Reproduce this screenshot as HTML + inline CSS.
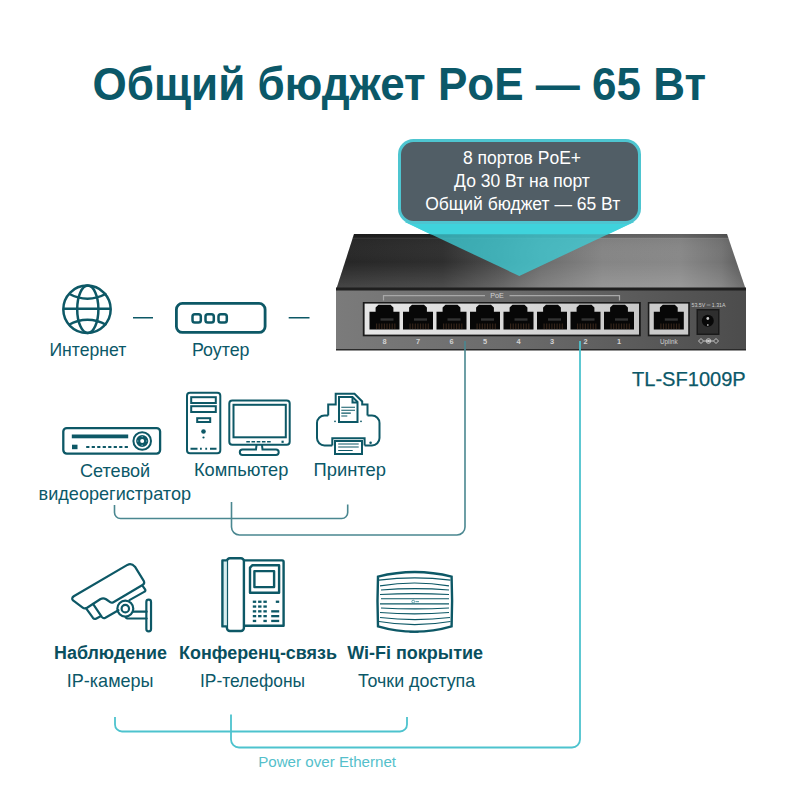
<!DOCTYPE html><html><head><meta charset="utf-8"><style>
html,body{margin:0;padding:0;background:#fff;width:800px;height:800px;overflow:hidden}
svg{display:block}
text{font-family:"Liberation Sans",sans-serif} .lb{stroke:none}
</style></head><body>
<svg width="800" height="800" viewBox="0 0 800 800">
<defs>
<linearGradient id="gtop" x1="0" y1="0" x2="1" y2="0">
<stop offset="0" stop-color="#262626"/><stop offset="0.26" stop-color="#2e2e2e"/><stop offset="0.4" stop-color="#4e4e4e"/><stop offset="0.5" stop-color="#6c6c6c"/><stop offset="0.65" stop-color="#858585"/><stop offset="0.84" stop-color="#888888"/><stop offset="0.94" stop-color="#747474"/><stop offset="1" stop-color="#555555"/>
</linearGradient>
<linearGradient id="gtopv" x1="0" y1="0" x2="0" y2="1">
<stop offset="0" stop-color="#000" stop-opacity="0.08"/><stop offset="0.5" stop-color="#fff" stop-opacity="0"/><stop offset="1" stop-color="#fff" stop-opacity="0.16"/>
</linearGradient>
<linearGradient id="gfront" x1="0" y1="0" x2="1" y2="0">
<stop offset="0" stop-color="#7b7b7b"/><stop offset="0.45" stop-color="#6a6a6a"/><stop offset="1" stop-color="#4c4c4c"/>
</linearGradient>
<linearGradient id="gblock" x1="0" y1="0" x2="1" y2="0">
<stop offset="0" stop-color="#e6e6e6"/><stop offset="0.5" stop-color="#dadada"/><stop offset="1" stop-color="#c8c8c8"/>
</linearGradient>
</defs>

<text x="92.5" y="100" font-size="47" font-weight="bold" fill="#0b5868" textLength="613.5" lengthAdjust="spacingAndGlyphs">Общий бюджет PoE — 65 Вт</text>
<polygon points="354,234 727,234 746,290 336,290" fill="url(#gtop)"/>
<polygon points="354,234 727,234 746,290 336,290" fill="url(#gtopv)"/>
<polygon points="354,234 727,234 728.4,238 352.6,238" fill="#000" opacity="0.22"/>
<rect x="352.6" y="237.6" width="375.8" height="1" fill="#fff" opacity="0.1"/>
<rect x="336" y="288" width="410" height="62" fill="url(#gfront)"/>
<rect x="336" y="287.5" width="410" height="3" fill="#1f1f1f"/>
<rect x="336" y="349" width="410" height="1.5" fill="#2a2a2a"/>
<path d="M383.5 300.5 v-4.8 h101.5 M509.5 295.7 h110 v4.8" fill="none" stroke="#a8a8a8" stroke-width="1.2"/>
<text x="497" y="298.3" font-size="7.2" fill="#d0d0d0" text-anchor="middle">PoE</text>
<rect x="362.8" y="302" width="278" height="34.3" fill="#1a1a1a"/>
<rect x="364.6" y="303.6" width="274.4" height="31" fill="url(#gblock)"/>
<path d="M378.50 304.8 H390.50 L393.40 307.6 V311.75 H399.50 V329.5 H369.50 V311.75 H375.60 V307.6 Z" fill="#070707"/><rect x="380.50" y="318.3" width="13" height="2.4" fill="#333"/><rect x="376.00" y="323.5" width="1.2" height="5.5" fill="#33241a"/><rect x="378.60" y="323.5" width="1.2" height="5.5" fill="#33241a"/><rect x="381.20" y="323.5" width="1.2" height="5.5" fill="#33241a"/><rect x="383.80" y="323.5" width="1.2" height="5.5" fill="#33241a"/><rect x="386.40" y="323.5" width="1.2" height="5.5" fill="#33241a"/><rect x="389.00" y="323.5" width="1.2" height="5.5" fill="#33241a"/><rect x="391.60" y="323.5" width="1.2" height="5.5" fill="#33241a"/><rect x="394.20" y="323.5" width="1.2" height="5.5" fill="#33241a"/>
<path d="M412.00 304.8 H424.00 L426.90 307.6 V311.75 H433.00 V329.5 H403.00 V311.75 H409.10 V307.6 Z" fill="#070707"/><rect x="414.00" y="318.3" width="13" height="2.4" fill="#333"/><rect x="409.50" y="323.5" width="1.2" height="5.5" fill="#33241a"/><rect x="412.10" y="323.5" width="1.2" height="5.5" fill="#33241a"/><rect x="414.70" y="323.5" width="1.2" height="5.5" fill="#33241a"/><rect x="417.30" y="323.5" width="1.2" height="5.5" fill="#33241a"/><rect x="419.90" y="323.5" width="1.2" height="5.5" fill="#33241a"/><rect x="422.50" y="323.5" width="1.2" height="5.5" fill="#33241a"/><rect x="425.10" y="323.5" width="1.2" height="5.5" fill="#33241a"/><rect x="427.70" y="323.5" width="1.2" height="5.5" fill="#33241a"/>
<path d="M445.50 304.8 H457.50 L460.40 307.6 V311.75 H466.50 V329.5 H436.50 V311.75 H442.60 V307.6 Z" fill="#070707"/><rect x="447.50" y="318.3" width="13" height="2.4" fill="#333"/><rect x="443.00" y="323.5" width="1.2" height="5.5" fill="#33241a"/><rect x="445.60" y="323.5" width="1.2" height="5.5" fill="#33241a"/><rect x="448.20" y="323.5" width="1.2" height="5.5" fill="#33241a"/><rect x="450.80" y="323.5" width="1.2" height="5.5" fill="#33241a"/><rect x="453.40" y="323.5" width="1.2" height="5.5" fill="#33241a"/><rect x="456.00" y="323.5" width="1.2" height="5.5" fill="#33241a"/><rect x="458.60" y="323.5" width="1.2" height="5.5" fill="#33241a"/><rect x="461.20" y="323.5" width="1.2" height="5.5" fill="#33241a"/>
<path d="M479.00 304.8 H491.00 L493.90 307.6 V311.75 H500.00 V329.5 H470.00 V311.75 H476.10 V307.6 Z" fill="#070707"/><rect x="481.00" y="318.3" width="13" height="2.4" fill="#333"/><rect x="476.50" y="323.5" width="1.2" height="5.5" fill="#33241a"/><rect x="479.10" y="323.5" width="1.2" height="5.5" fill="#33241a"/><rect x="481.70" y="323.5" width="1.2" height="5.5" fill="#33241a"/><rect x="484.30" y="323.5" width="1.2" height="5.5" fill="#33241a"/><rect x="486.90" y="323.5" width="1.2" height="5.5" fill="#33241a"/><rect x="489.50" y="323.5" width="1.2" height="5.5" fill="#33241a"/><rect x="492.10" y="323.5" width="1.2" height="5.5" fill="#33241a"/><rect x="494.70" y="323.5" width="1.2" height="5.5" fill="#33241a"/>
<path d="M512.50 304.8 H524.50 L527.40 307.6 V311.75 H533.50 V329.5 H503.50 V311.75 H509.60 V307.6 Z" fill="#070707"/><rect x="514.50" y="318.3" width="13" height="2.4" fill="#333"/><rect x="510.00" y="323.5" width="1.2" height="5.5" fill="#33241a"/><rect x="512.60" y="323.5" width="1.2" height="5.5" fill="#33241a"/><rect x="515.20" y="323.5" width="1.2" height="5.5" fill="#33241a"/><rect x="517.80" y="323.5" width="1.2" height="5.5" fill="#33241a"/><rect x="520.40" y="323.5" width="1.2" height="5.5" fill="#33241a"/><rect x="523.00" y="323.5" width="1.2" height="5.5" fill="#33241a"/><rect x="525.60" y="323.5" width="1.2" height="5.5" fill="#33241a"/><rect x="528.20" y="323.5" width="1.2" height="5.5" fill="#33241a"/>
<path d="M546.00 304.8 H558.00 L560.90 307.6 V311.75 H567.00 V329.5 H537.00 V311.75 H543.10 V307.6 Z" fill="#070707"/><rect x="548.00" y="318.3" width="13" height="2.4" fill="#333"/><rect x="543.50" y="323.5" width="1.2" height="5.5" fill="#33241a"/><rect x="546.10" y="323.5" width="1.2" height="5.5" fill="#33241a"/><rect x="548.70" y="323.5" width="1.2" height="5.5" fill="#33241a"/><rect x="551.30" y="323.5" width="1.2" height="5.5" fill="#33241a"/><rect x="553.90" y="323.5" width="1.2" height="5.5" fill="#33241a"/><rect x="556.50" y="323.5" width="1.2" height="5.5" fill="#33241a"/><rect x="559.10" y="323.5" width="1.2" height="5.5" fill="#33241a"/><rect x="561.70" y="323.5" width="1.2" height="5.5" fill="#33241a"/>
<path d="M579.50 304.8 H591.50 L594.40 307.6 V311.75 H600.50 V329.5 H570.50 V311.75 H576.60 V307.6 Z" fill="#070707"/><rect x="581.50" y="318.3" width="13" height="2.4" fill="#333"/><rect x="577.00" y="323.5" width="1.2" height="5.5" fill="#33241a"/><rect x="579.60" y="323.5" width="1.2" height="5.5" fill="#33241a"/><rect x="582.20" y="323.5" width="1.2" height="5.5" fill="#33241a"/><rect x="584.80" y="323.5" width="1.2" height="5.5" fill="#33241a"/><rect x="587.40" y="323.5" width="1.2" height="5.5" fill="#33241a"/><rect x="590.00" y="323.5" width="1.2" height="5.5" fill="#33241a"/><rect x="592.60" y="323.5" width="1.2" height="5.5" fill="#33241a"/><rect x="595.20" y="323.5" width="1.2" height="5.5" fill="#33241a"/>
<path d="M613.00 304.8 H625.00 L627.90 307.6 V311.75 H634.00 V329.5 H604.00 V311.75 H610.10 V307.6 Z" fill="#070707"/><rect x="615.00" y="318.3" width="13" height="2.4" fill="#333"/><rect x="610.50" y="323.5" width="1.2" height="5.5" fill="#33241a"/><rect x="613.10" y="323.5" width="1.2" height="5.5" fill="#33241a"/><rect x="615.70" y="323.5" width="1.2" height="5.5" fill="#33241a"/><rect x="618.30" y="323.5" width="1.2" height="5.5" fill="#33241a"/><rect x="620.90" y="323.5" width="1.2" height="5.5" fill="#33241a"/><rect x="623.50" y="323.5" width="1.2" height="5.5" fill="#33241a"/><rect x="626.10" y="323.5" width="1.2" height="5.5" fill="#33241a"/><rect x="628.70" y="323.5" width="1.2" height="5.5" fill="#33241a"/>
<text x="384.5" y="344.3" font-size="7.4" font-weight="bold" fill="#d2d2d2" text-anchor="middle">8</text>
<text x="418.0" y="344.3" font-size="7.4" font-weight="bold" fill="#d2d2d2" text-anchor="middle">7</text>
<text x="451.5" y="344.3" font-size="7.4" font-weight="bold" fill="#d2d2d2" text-anchor="middle">6</text>
<text x="485.0" y="344.3" font-size="7.4" font-weight="bold" fill="#d2d2d2" text-anchor="middle">5</text>
<text x="518.5" y="344.3" font-size="7.4" font-weight="bold" fill="#d2d2d2" text-anchor="middle">4</text>
<text x="552.0" y="344.3" font-size="7.4" font-weight="bold" fill="#d2d2d2" text-anchor="middle">3</text>
<text x="585.5" y="344.3" font-size="7.4" font-weight="bold" fill="#d2d2d2" text-anchor="middle">2</text>
<text x="619.0" y="344.3" font-size="7.4" font-weight="bold" fill="#d2d2d2" text-anchor="middle">1</text>
<rect x="647.8" y="302" width="42" height="34.3" fill="#1a1a1a"/>
<rect x="649.4" y="303.6" width="38.8" height="31" fill="#cbcbcb"/>
<path d="M662.80 304.8 H674.80 L677.70 307.6 V311.75 H683.80 V329.5 H653.80 V311.75 H659.90 V307.6 Z" fill="#070707"/><rect x="664.80" y="318.3" width="13" height="2.4" fill="#333"/><rect x="660.30" y="323.5" width="1.2" height="5.5" fill="#33241a"/><rect x="662.90" y="323.5" width="1.2" height="5.5" fill="#33241a"/><rect x="665.50" y="323.5" width="1.2" height="5.5" fill="#33241a"/><rect x="668.10" y="323.5" width="1.2" height="5.5" fill="#33241a"/><rect x="670.70" y="323.5" width="1.2" height="5.5" fill="#33241a"/><rect x="673.30" y="323.5" width="1.2" height="5.5" fill="#33241a"/><rect x="675.90" y="323.5" width="1.2" height="5.5" fill="#33241a"/><rect x="678.50" y="323.5" width="1.2" height="5.5" fill="#33241a"/>
<text x="668.8" y="344.3" font-size="6.3" fill="#cfcfcf" text-anchor="middle">Uplink</text>
<rect x="696.5" y="309" width="23" height="26" fill="#1a1a1a"/>
<rect x="698" y="310.5" width="20" height="23" fill="#2e2e2e"/>
<circle cx="707.8" cy="320.8" r="6" fill="#080808"/>
<circle cx="707.8" cy="318.5" r="1.4" fill="#c8c8c8"/>
<rect x="707.1" y="324" width="1.4" height="2" fill="#999"/>
<text x="708.5" y="307.2" font-size="5.2" fill="#cfcfcf" text-anchor="middle" textLength="34" lengthAdjust="spacingAndGlyphs">53.5V ═ 1.31A</text>
<g fill="none" stroke="#d0d0d0" stroke-width="0.9"><path d="M698.5 341 L701 338.5 L703.5 341 L701 343.5 Z M713.5 341 L716 338.5 L718.5 341 L716 343.5 Z M703.5 341 H713.5"/><circle cx="708.5" cy="341" r="2.3"/></g><circle cx="708.5" cy="341" r="1.3" fill="#d0d0d0"/>
<polygon points="405,222 634,222 519.3,276" fill="#3ccfd8" opacity="0.76"/>
<polygon points="405,222 634,222 608.2,234.2 430.4,234.2" fill="#3fd3dc"/>
<rect x="399.5" y="140.5" width="240" height="82" rx="14" fill="#515e66" stroke="#4ec5d0" stroke-width="3"/>
<text font-size="17.5" fill="#ffffff" text-anchor="middle"><tspan x="522" y="164.2">8 портов PoE+</tspan><tspan x="522" y="187.3">До 30 Вт на порт</tspan><tspan x="522.7" y="210">Общий бюджет — 65 Вт</tspan></text>
<text x="632.00" y="386.3" font-size="20.5" fill="#0b5868" stroke="#0b5868" stroke-width="0.25" textLength="113.75" lengthAdjust="spacingAndGlyphs">TL-SF1009P</text>
<path d="M114.5 505 V512.5 a6 6 0 0 0 6 6 H341.7 a6 6 0 0 0 6 -6 V504.5" fill="none" stroke="#4a8790" stroke-width="1.6"/>
<path d="M231.5 502 V527 a8 8 0 0 0 8 8 H457 a8 8 0 0 0 8 -8 V341" fill="none" stroke="#4a8790" stroke-width="1.6"/>
<path d="M115 717 V724.5 a7 7 0 0 0 7 7 H400 a7 7 0 0 0 7 -7 V717" fill="none" stroke="#4dc3ce" stroke-width="1.8"/>
<path d="M231 714.5 V739.5 a8 8 0 0 0 8 8 H572 a8 8 0 0 0 8 -8 V341" fill="none" stroke="#4dc3ce" stroke-width="1.8"/>
<text x="258.20" y="766.6" font-size="14.6" fill="#55bfcb" textLength="137.90" lengthAdjust="spacingAndGlyphs">Power over Ethernet</text>
<g fill="none" stroke="#0d5866" stroke-width="2.5"><circle cx="87" cy="309.3" r="23.7"/><ellipse cx="87.8" cy="309.3" rx="10.6" ry="23.7"/><path d="M63.3 308.8 H110.7"/><path d="M68.5 293.5 Q87.5 304 106.5 293.5"/><path d="M68.5 325 Q87.5 314.5 106.5 325"/></g>
<rect x="176.4" y="303.4" width="88.7" height="29" rx="6" fill="none" stroke="#0d5866" stroke-width="2.8"/>
<rect x="192.5" y="314.3" width="8.3" height="8.2" rx="2.3" fill="none" stroke="#0d5866" stroke-width="2.5"/>
<rect x="205.5" y="314.3" width="8.3" height="8.2" rx="2.3" fill="none" stroke="#0d5866" stroke-width="2.5"/>
<rect x="218.5" y="314.3" width="8.3" height="8.2" rx="2.3" fill="none" stroke="#0d5866" stroke-width="2.5"/>
<path d="M133 317.8 H153 M288.7 317.8 H309.5" stroke="#0d5866" stroke-width="1.6"/>
<text class="lb" x="49.40" y="356.2" font-size="18.2" fill="#0b5868" textLength="76.80" lengthAdjust="spacingAndGlyphs">Интернет</text>
<text class="lb" x="192.00" y="355.5" font-size="18.2" fill="#0b5868" textLength="57.50" lengthAdjust="spacingAndGlyphs">Роутер</text>
<g fill="none" stroke="#0d5866" stroke-width="2.3"><rect x="63.3" y="428.1" width="96.8" height="25.5" rx="3.5"/><circle cx="142.2" cy="441" r="8.8" stroke-width="2"/><circle cx="142.2" cy="441" r="4.05" stroke-width="4.1"/></g>
<rect x="71.8" y="434.5" width="56.4" height="3.8" fill="#0d5866"/>
<rect x="72" y="444.7" width="5.5" height="4.5" fill="#0d5866"/>
<path d="M86.2 446.9 H128.2" stroke="#0d5866" stroke-width="2" stroke-dasharray="3.2 2.3"/>
<g fill="#5fa3ad"><circle cx="142.2" cy="436.6" r="0.8"/><circle cx="142.2" cy="445.4" r="0.8"/><circle cx="137.8" cy="441" r="0.8"/><circle cx="146.6" cy="441" r="0.8"/></g>
<g fill="none" stroke="#0d5866" stroke-width="2"><rect x="187" y="392.8" width="33.3" height="60.5" rx="3"/><rect x="191.2" y="397.2" width="24.6" height="5.8"/><rect x="191.2" y="406.2" width="24.6" height="5.8"/><rect x="197.2" y="418.2" width="13" height="3.8"/><rect x="229.3" y="400.5" width="60.4" height="44.3" rx="3"/><rect x="233.5" y="404.8" width="52.3" height="32.5"/></g>
<circle cx="203.5" cy="431.5" r="2.3" fill="#0d5866"/><circle cx="203.5" cy="437.5" r="1.1" fill="#0d5866"/>
<path d="M190.5 448.8 h7 M200 448.8 h1.8 M205.3 448.8 h1.8 M210 448.8 h6.5" stroke="#0d5866" stroke-width="2"/>
<path d="M246.3 441.7 H272.3" stroke="#0d5866" stroke-width="1.6" stroke-dasharray="3.6 1.6"/>
<rect x="281.5" y="440.7" width="2.2" height="2.2" fill="#0d5866"/>
<path d="M256.5 445 l-0.5 4.5 h-13.5 a2.7 2.7 0 0 0 0 5.4 h33.5 a2.7 2.7 0 0 0 0 -5.4 h-13.5 l-0.5 -4.5" fill="none" stroke="#0d5866" stroke-width="2"/>
<g fill="none" stroke="#0d5866" stroke-width="2"><path d="M328.2 415.5 V404.5 H335.7 V393.7 H354.5 L362.2 401.5 V404.5 H367.5 V415.5"/><path d="M328.2 415.5 H324.5 a7.5 7.5 0 0 0 -7.5 7.5 V438 a7.5 7.5 0 0 0 7.5 7.5 H332.3 M364.6 445.5 H372 a7.5 7.5 0 0 0 7.5 -7.5 V423 a7.5 7.5 0 0 0 -7.5 -7.5 H367.5"/><path d="M339 422 V397 H352.5 L357.5 402 V422 Z"/><path d="M352.5 397 V402.5 H357.5"/><path d="M332.3 445.5 V438.3 H364.6 V445.5"/><path d="M335 445.5 V441 H362 V454 H335 Z"/></g>
<path d="M341.3 407.3 h13.7 M341.3 410.2 h13.7 M341.3 413.1 h9.5 M341.3 416 h6" stroke="#0d5866" stroke-width="1.1"/>
<path d="M338.2 444 h20.5 M338.2 447 h20.5 M338.2 450.5 h14.5" stroke="#0d5866" stroke-width="1.1"/>
<circle cx="335" cy="421.3" r="0.9" fill="#0d5866"/><circle cx="361" cy="421.3" r="0.9" fill="#0d5866"/><circle cx="370.6" cy="442.8" r="1.3" fill="#0d5866"/>
<text class="lb" x="80.00" y="476.7" font-size="18.2" fill="#0b5868" textLength="70.20" lengthAdjust="spacingAndGlyphs">Сетевой</text>
<text class="lb" x="38.60" y="499.6" font-size="18.2" fill="#0b5868" textLength="152.40" lengthAdjust="spacingAndGlyphs">видеорегистратор</text>
<text class="lb" x="194.00" y="475.8" font-size="18.2" fill="#0b5868" textLength="94.40" lengthAdjust="spacingAndGlyphs">Компьютер</text>
<text class="lb" x="313.55" y="476.2" font-size="18.2" fill="#0b5868" textLength="72.45" lengthAdjust="spacingAndGlyphs">Принтер</text>
<g transform="translate(60 555) scale(0.1375)" fill="none" stroke="#0d5866" stroke-width="16" stroke-linejoin="round" stroke-linecap="round"><path d="M100 300 L490 72 Q520 58 545 85 L610 190 Q618 208 600 218 L385 345 Q375 350 365 343 L335 322 Q315 310 295 320 L200 382 Q180 394 165 382 L95 330 Q80 315 100 300 Z"/><path d="M602 226 L620 252 Q624 262 612 268 L505 328"/><path d="M190 388 L240 458 Q250 470 265 462 L292 448"/><path d="M240 356 L305 452 Q315 464 330 456 L425 402"/><circle cx="475" cy="390" r="58"/><circle cx="475" cy="390" r="27"/><path d="M532 412 H630 M478 455 L490 462 H630"/><rect x="628" y="325" width="34" height="230" rx="17"/></g>
<g fill="none" stroke="#0d5866" stroke-width="2.4" stroke-linejoin="round"><rect x="226.9" y="558.2" width="17" height="72.8" rx="3"/><path d="M226.9 560.4 H222.4 V626.4 H226.9" fill="#d8eef0"/><path d="M243.9 560.4 H282.2 Q283.6 560.4 283.6 562 V625.8 H243.9"/><path d="M252.5 565.2 H279.1 V592.7 H250 V567.7 Z"/><rect x="254.4" y="571.1" width="19.7" height="16"/></g>
<rect x="252.8" y="600.6" width="3.4" height="2.3" fill="#0d5866"/><rect x="258.1" y="600.6" width="3.4" height="2.3" fill="#0d5866"/><rect x="263.4" y="600.6" width="3.4" height="2.3" fill="#0d5866"/><rect x="252.8" y="605.4" width="3.4" height="2.3" fill="#0d5866"/><rect x="258.1" y="605.4" width="3.4" height="2.3" fill="#0d5866"/><rect x="263.4" y="605.4" width="3.4" height="2.3" fill="#0d5866"/><rect x="252.8" y="610.2" width="3.4" height="2.3" fill="#0d5866"/><rect x="258.1" y="610.2" width="3.4" height="2.3" fill="#0d5866"/><rect x="263.4" y="610.2" width="3.4" height="2.3" fill="#0d5866"/><rect x="252.8" y="615.0" width="3.4" height="2.3" fill="#0d5866"/><rect x="258.1" y="615.0" width="3.4" height="2.3" fill="#0d5866"/><rect x="263.4" y="615.0" width="3.4" height="2.3" fill="#0d5866"/><rect x="252.8" y="619.8" width="3.4" height="2.3" fill="#0d5866"/><rect x="263.4" y="619.8" width="3.4" height="2.3" fill="#0d5866"/><rect x="275.8" y="600.6" width="3.4" height="2.3" fill="#0d5866"/><rect x="271.2" y="610.2" width="8" height="2.3" fill="#0d5866"/><rect x="271.2" y="615.0" width="8" height="2.3" fill="#0d5866"/><rect x="271.2" y="619.8" width="8" height="2.3" fill="#0d5866"/>
<g fill="none" stroke="#0d5866"><path d="M378 576.6 Q414.8 567.5 451.6 576.6 Q452.6 601 451.6 626.3 Q414.8 637 378 626.3 Q377 601 378 576.6 Z" stroke-width="2.4"/><path d="M379 580.2 A278.99 278.99 0 0 1 450.5 580.2" stroke-width="1.2"/><path d="M380 585.8 A213.94 213.94 0 0 1 449 585.8" stroke-width="1.2"/><path d="M381 590 A413.56 413.56 0 0 1 449 590" stroke-width="1.2"/><path d="M380 594.5 A744.31 744.31 0 0 1 449 594.5" stroke-width="1.2"/><path d="M381 598.75 H449" stroke-width="1.2"/><path d="M380 603.8 H449" stroke-width="1.2"/><path d="M381 608 A642.67 642.67 0 0 0 449 608" stroke-width="1.2"/><path d="M380 612.5 A425.79 425.79 0 0 0 449 612.5" stroke-width="1.2"/><path d="M380 617.5 A292.72 292.72 0 0 0 450 617.5" stroke-width="1.2"/><path d="M379 621.5 A207.69 207.69 0 0 0 450.5 621.5" stroke-width="1.2"/></g>
<circle cx="413.2" cy="601.6" r="1.4" fill="none" stroke="#3d8a96" stroke-width="0.8"/><rect x="415.5" y="601" width="3.5" height="1.2" fill="#6aa6ae"/>
<rect x="409.5" y="631.2" width="9" height="1.6" fill="#0d5866"/>
<text x="54.00" y="659.2" font-size="17.5" font-weight="bold" fill="#094f5e" textLength="113.00" lengthAdjust="spacingAndGlyphs">Наблюдение</text>
<text x="179.00" y="659.2" font-size="17.5" font-weight="bold" fill="#094f5e" textLength="158.00" lengthAdjust="spacingAndGlyphs">Конференц-связь</text>
<text x="347.20" y="659" font-size="17.5" font-weight="bold" fill="#094f5e" textLength="135.80" lengthAdjust="spacingAndGlyphs">Wi-Fi покрытие</text>
<text class="lb" x="66.80" y="686.7" font-size="18.2" fill="#0b5868" textLength="86.75" lengthAdjust="spacingAndGlyphs">IP-камеры</text>
<text class="lb" x="200.00" y="686.7" font-size="18.2" fill="#0b5868" textLength="105.00" lengthAdjust="spacingAndGlyphs">IP-телефоны</text>
<text class="lb" x="358.00" y="686.6" font-size="18.2" fill="#0b5868" textLength="117.20" lengthAdjust="spacingAndGlyphs">Точки доступа</text>
</svg></body></html>
